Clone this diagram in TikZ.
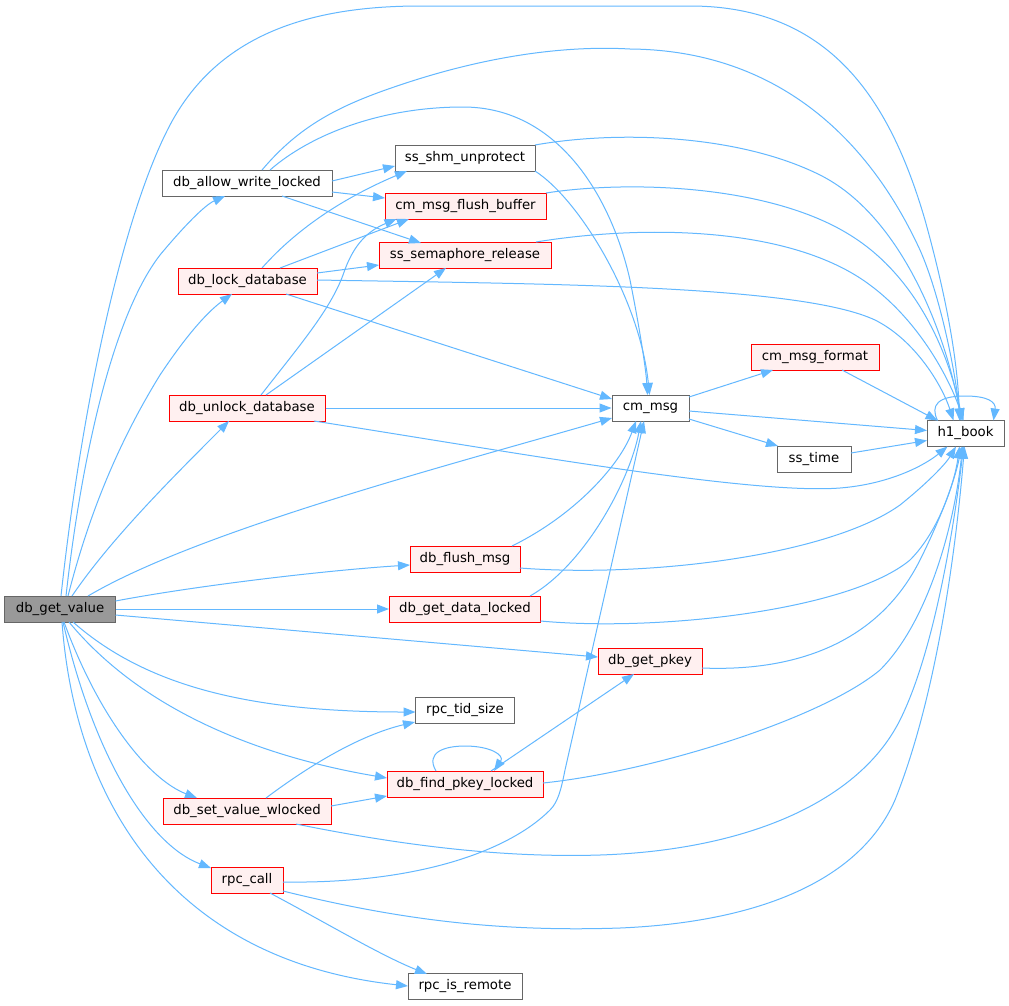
\documentclass[tikz,border=0pt]{standalone}
\usepackage{fontspec}
\setmainfont{DejaVu Sans}
\usetikzlibrary{arrows.meta}
\definecolor{edgecol}{HTML}{63B8FF}
\definecolor{graycol}{HTML}{666666}
\definecolor{rootfill}{HTML}{999999}
\definecolor{redfill}{HTML}{FFF0F0}
\begin{document}
\begin{tikzpicture}[x=1pt,y=-1pt,
  box/.style={draw, line width=1pt, minimum height=26pt, inner sep=0pt, font=\fontsize{13.3}{16}\selectfont, text=black},
  gnode/.style={box, draw=graycol, fill=white},
  rnode/.style={box, draw=red, fill=redfill},
  rootn/.style={box, draw=graycol, fill=rootfill},
  edge/.style={draw=edgecol, line width=1pt, -{Triangle[length=12pt,width=9pt]}}]
\useasboundingbox[fill=white] (0,0) rectangle (1009,1005);

\node[rootn, minimum width=111pt] (root) at (60,609) {db\_get\_value};
\node[gnode, minimum width=170pt] (awl) at (247,183) {db\_allow\_write\_locked};
\node[gnode, minimum width=140pt] (shm) at (465,158) {ss\_shm\_unprotect};
\node[rnode, minimum width=161pt] (flush) at (465.5,206) {cm\_msg\_flush\_buffer};
\node[rnode, minimum width=172pt] (sem) at (465,255) {ss\_semaphore\_release};
\node[rnode, minimum width=139pt] (lock) at (247.5,281) {db\_lock\_database};
\node[rnode, minimum width=156pt] (unlock) at (247,408) {db\_unlock\_database};
\node[rnode, minimum width=128pt] (fmt) at (815,357) {cm\_msg\_format};
\node[gnode, minimum width=77pt] (cm) at (650.5,408) {cm\_msg};
\node[gnode, minimum width=77pt] (h1) at (965.5,433.5) {h1\_book};
\node[gnode, minimum width=74pt] (time) at (814,459) {ss\_time};
\node[rnode, minimum width=110pt] (dfm) at (465,559) {db\_flush\_msg};
\node[rnode, minimum width=151pt] (gdl) at (465,609) {db\_get\_data\_locked};
\node[rnode, minimum width=104pt] (pkey) at (650,661) {db\_get\_pkey};
\node[gnode, minimum width=99pt] (tid) at (465,710) {rpc\_tid\_size};
\node[rnode, minimum width=156pt] (find) at (465,784) {db\_find\_pkey\_locked};
\node[rnode, minimum width=168pt] (set) at (247,811) {db\_set\_value\_wlocked};
\node[rnode, minimum width=72pt] (call) at (247,880) {rpc\_call};
\node[gnode, minimum width=114pt] (remote) at (465,986) {rpc\_is\_remote};

% top arcs to h1_book
\draw[edge] ([shift={(1,-13)}]root.center) .. controls (80,420) and (120,220) .. (170,125) .. controls (215,40) and (300,6) .. (420,6) -- (690,6) .. controls (830,6) and (890,100) .. (925,220) .. controls (950,310) and (958,370) .. ([shift={(-6,-13)}]h1.center);
\draw[edge] ([shift={(15,-13)}]awl.center) .. controls (300,125) and (340,105) .. (400,85) .. controls (480,58) and (560,45) .. (630,49) .. controls (760,50) and (860,120) .. (920,250) .. controls (940,295) and (955,370) .. ([shift={(-5,-13)}]h1.center);
\draw[edge] ([shift={(23,-13)}]awl.center) .. controls (310,135) and (380,107) .. (463,107) .. controls (560,107) and (612,200) .. (630,280) .. controls (640,330) and (646,370) .. ([shift={(-3,-13)}]cm.center);
\draw[edge] ([shift={(70,-13)}]shm.center) .. controls (620,130) and (740,135) .. (820,175) .. controls (900,215) and (945,330) .. ([shift={(-4,-13)}]h1.center);
\draw[edge] ([shift={(70,13)}]shm.center) .. controls (580,200) and (640,300) .. ([shift={(-1,-13)}]cm.center);
\draw[edge] ([shift={(80.5,-13)}]flush.center) .. controls (630,180) and (770,185) .. (850,235) .. controls (915,275) and (948,350) .. ([shift={(-3,-13)}]h1.center);
\draw[edge] ([shift={(71,-13)}]sem.center) .. controls (640,225) and (790,225) .. (870,285) .. controls (920,322) and (950,380) .. ([shift={(-2,-13)}]h1.center);

% db_allow_write_locked
\draw[edge] ([shift={(85,-2)}]awl.center) -- ([shift={(-70,8)}]shm.center);
\draw[edge] ([shift={(85,9)}]awl.center) -- ([shift={(-80.5,-8)}]flush.center);
\draw[edge] ([shift={(35,13)}]awl.center) -- ([shift={(-44,-12)}]sem.center);

% db_lock_database
\draw[edge] ([shift={(69.5,-1)}]lock.center) .. controls (550,284) and (800,285) .. (875,320) .. controls (915,340) and (942,385) .. ([shift={(-12,-13)}]h1.center);
\draw[edge] ([shift={(38.5,13)}]lock.center) -- ([shift={(-38.5,-9)}]cm.center);
\draw[edge] ([shift={(14.5,-13)}]lock.center) .. controls (300,225) and (350,195) .. ([shift={(-58,13)}]shm.center);
\draw[edge] ([shift={(32.5,-13)}]lock.center) -- ([shift={(-56.5,13)}]flush.center);
\draw[edge] ([shift={(69.5,-8)}]lock.center) -- ([shift={(-86,10)}]sem.center);

% db_unlock_database
\draw[edge] ([shift={(14,-13)}]unlock.center) .. controls (300,345) and (330,310) .. (343,275) .. controls (352,248) and (365,232) .. ([shift={(-69,13)}]flush.center);
\draw[edge] ([shift={(19,-13)}]unlock.center) -- ([shift={(-19,13)}]sem.center);
\draw[edge] (unlock.east) -- (cm.west);
\draw[edge] ([shift={(67,13)}]unlock.center) .. controls (500,450) and (750,495) .. (840,488) .. controls (890,484) and (925,465) .. ([shift={(-18,13)}]h1.center);

% cm_msg and neighbours
\draw[edge] ([shift={(38.5,-11)}]cm.center) -- ([shift={(-42,13)}]fmt.center);
\draw[edge] ([shift={(38.5,3)}]cm.center) -- ([shift={(-38.5,-3)}]h1.center);
\draw[edge] ([shift={(38.5,11)}]cm.center) -- ([shift={(-36,-13)}]time.center);
\draw[edge] ([shift={(27,13)}]fmt.center) -- ([shift={(-28,-13)}]h1.center);
\draw[edge] ([shift={(37,-6)}]time.center) -- ([shift={(-38.5,7)}]h1.center);
\draw[edge] ([shift={(-28,-13)}]h1.center) .. controls (930,405) and (938,396) .. (965,396) .. controls (988,396) and (996,402) .. ([shift={(28,-13)}]h1.center);

% middle nodes
\draw[edge] ([shift={(47,-13)}]dfm.center) .. controls (575,515) and (620,465) .. ([shift={(-14.5,13)}]cm.center);
\draw[edge] ([shift={(55,9)}]dfm.center) .. controls (650,578) and (830,555) .. (900,505) .. controls (925,485) and (945,465) .. ([shift={(-9.5,13)}]h1.center);
\draw[edge] ([shift={(65,-13)}]gdl.center) .. controls (585,565) and (630,480) .. ([shift={(-9.5,13)}]cm.center);
\draw[edge] ([shift={(75.5,12)}]gdl.center) .. controls (660,632) and (850,610) .. (910,560) .. controls (940,530) and (955,480) .. ([shift={(-6,13)}]h1.center);
\draw[edge] ([shift={(52,7)}]pkey.center) .. controls (800,672) and (880,640) .. (920,560) .. controls (940,520) and (955,480) .. ([shift={(-4,13)}]h1.center);
\draw[edge] ([shift={(78,-1)}]find.center) .. controls (650,772) and (820,720) .. (880,670) .. controls (930,620) and (955,520) .. ([shift={(-3,13)}]h1.center);
\draw[edge] ([shift={(49,13)}]set.center) .. controls (400,845) and (500,858) .. (600,855) .. controls (750,850) and (860,800) .. (900,720) .. controls (935,650) and (955,520) .. ([shift={(-2,13)}]h1.center);
\draw[edge] ([shift={(36,2)}]call.center) .. controls (420,884) and (510,850) .. (550,810) .. controls (558,802) and (561,790) .. (565,770) -- ([shift={(-6.5,13)}]cm.center);
\draw[edge] ([shift={(36,11)}]call.center) .. controls (400,920) and (500,932) .. (620,928) .. controls (760,922) and (860,880) .. (895,800) .. controls (935,700) and (955,560) .. ([shift={(-1,13)}]h1.center);
\draw[edge] ([shift={(23,13)}]call.center) .. controls (330,925) and (380,955) .. ([shift={(-38,-12)}]remote.center);
\draw[edge] ([shift={(19,-13)}]set.center) .. controls (310,765) and (360,735) .. ([shift={(-50,12)}]tid.center);
\draw[edge] ([shift={(84,-5)}]set.center) -- ([shift={(-78,12)}]find.center);
\draw[edge] ([shift={(-29,-13)}]find.center) .. controls (425,752) and (445,746) .. (465,746) .. controls (490,746) and (505,755) .. ([shift={(29,-13)}]find.center);
\draw[edge] ([shift={(26,-13)}]find.center) -- ([shift={(-16,13)}]pkey.center);

% db_get_value
\draw[edge] ([shift={(6,-13)}]root.center) .. controls (80,470) and (110,320) .. (160,255) .. controls (185,225) and (205,205) .. ([shift={(-22,13)}]awl.center);
\draw[edge] ([shift={(8,-13)}]root.center) .. controls (90,510) and (120,440) .. (160,375) .. controls (190,330) and (210,310) .. ([shift={(-15.5,13)}]lock.center);
\draw[edge] ([shift={(12,-13)}]root.center) .. controls (110,540) and (170,480) .. ([shift={(-18,13)}]unlock.center);
\draw[edge] ([shift={(28,-13)}]root.center) .. controls (200,530) and (450,465) .. ([shift={(-38.5,10)}]cm.center);
\draw[edge] ([shift={(55.5,-8)}]root.center) .. controls (200,585) and (330,570) .. ([shift={(-55,6)}]dfm.center);
\draw[edge] (root.east) -- (gdl.west);
\draw[edge] ([shift={(55.5,6)}]root.center) -- ([shift={(-52,-4)}]pkey.center);
\draw[edge] ([shift={(13,13)}]root.center) .. controls (150,690) and (260,712) .. ([shift={(-49.5,2)}]tid.center);
\draw[edge] ([shift={(9,13)}]root.center) .. controls (150,720) and (280,760) .. ([shift={(-78,-6)}]find.center);
\draw[edge] ([shift={(4,13)}]root.center) .. controls (100,720) and (150,780) .. ([shift={(-50,-13)}]set.center);
\draw[edge] ([shift={(3,13)}]root.center) .. controls (95,760) and (150,845) .. ([shift={(-36,-12)}]call.center);
\draw[edge] ([shift={(2,13)}]root.center) .. controls (75,800) and (170,960) .. ([shift={(-57,0)}]remote.center);
\end{tikzpicture}
\end{document}
